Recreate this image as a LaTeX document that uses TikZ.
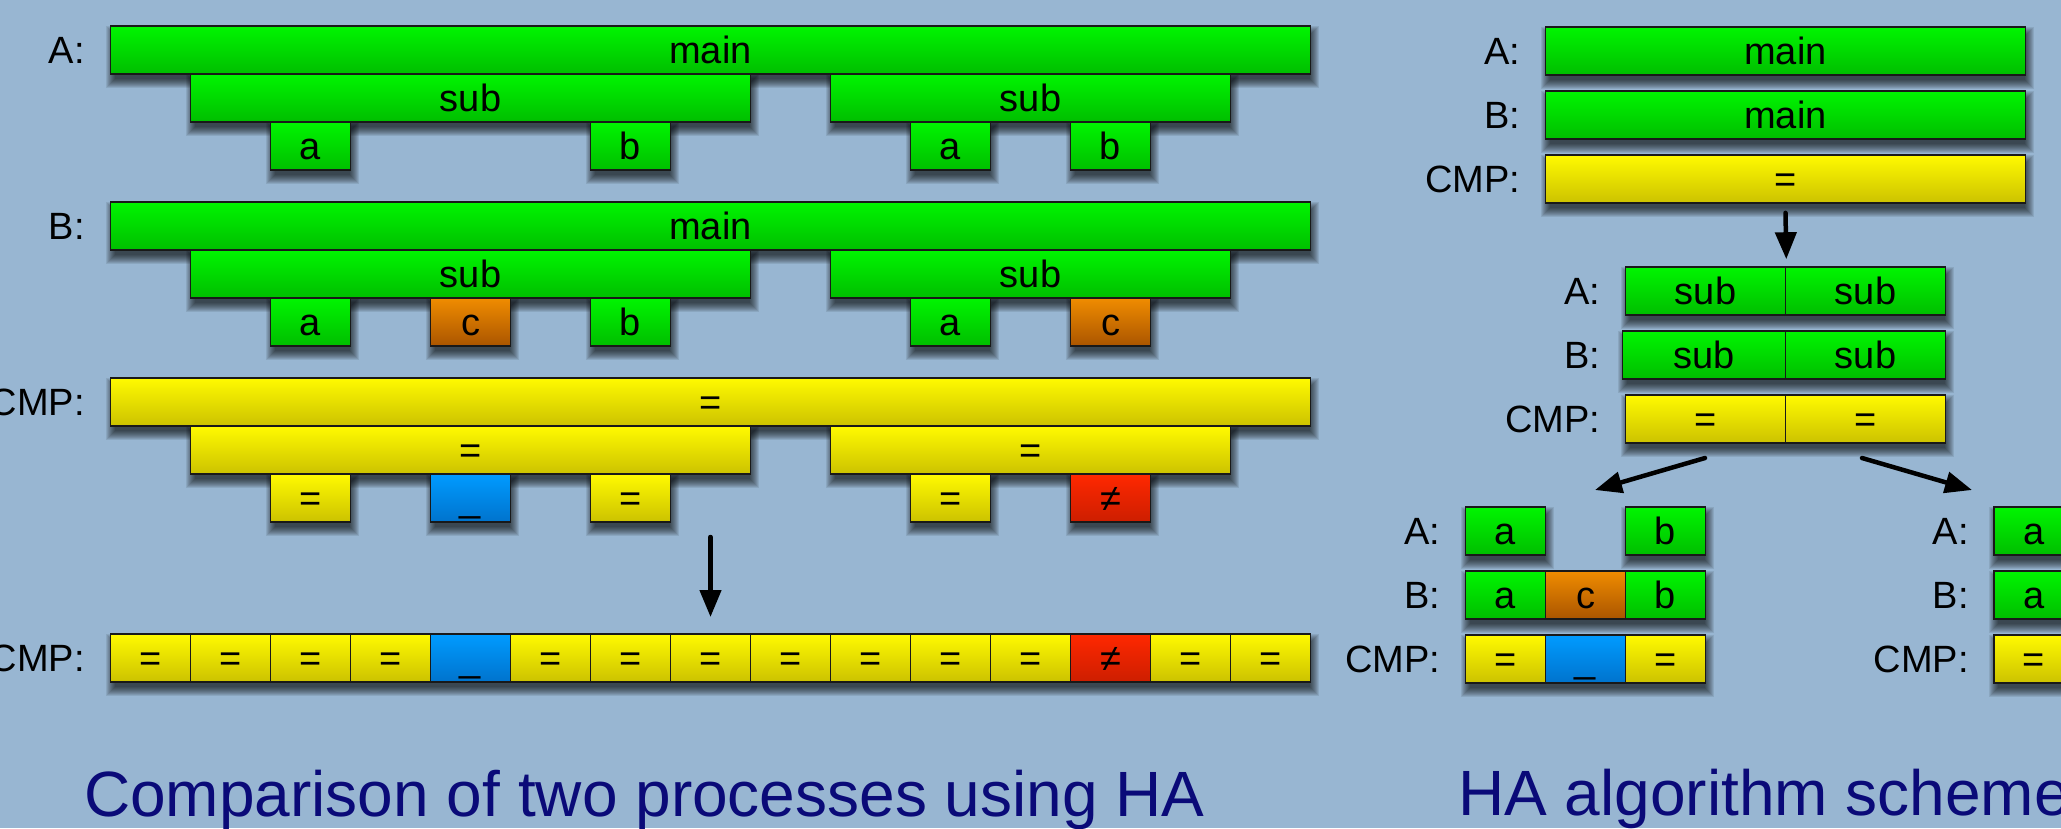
\documentclass[tikz,border=0pt]{standalone}
\usepackage{fontspec}
\setmainfont{Liberation Sans}
\usetikzlibrary{arrows.meta}
\definecolor{bgc}{RGB}{152,182,210}
\definecolor{gtop}{RGB}{0,245,0}
\definecolor{gbot}{RGB}{0,190,0}
\definecolor{ytop}{RGB}{255,250,0}
\definecolor{ybot}{RGB}{204,194,0}
\definecolor{btop}{RGB}{0,155,255}
\definecolor{bbot}{RGB}{0,115,205}
\definecolor{rtop}{RGB}{255,40,0}
\definecolor{rbot}{RGB}{205,30,0}
\definecolor{otop}{RGB}{240,140,0}
\definecolor{obot}{RGB}{170,85,0}
\definecolor{capc}{RGB}{10,10,120}
\pgfdeclarelayer{back}
\pgfdeclarelayer{shade}
\pgfsetlayers{back,shade,main}
\newcommand\mkshadow[2]{%
  \foreach \r in {-3,...,6}{%
    \fill[black,opacity=0.085]
      ([xshift={(2-\r)*1pt},yshift={(\r-7)*1pt}]#1.north west) rectangle
      ([xshift={(2+\r)*1pt},yshift={(-7-\r)*1pt}]#2.south east);}}
\begin{document}
\begin{tikzpicture}[x=1pt,y=-1pt,
  txt/.style={font=\fontsize{38}{44}\selectfont, text height=27pt, text depth=0pt, inner sep=0pt},
  box/.style={txt, draw=black!90, line width=1.6pt, minimum height=48pt, minimum width=80pt},
  gb/.style={box, top color=gtop, bottom color=gbot},
  yb/.style={box, top color=ytop, bottom color=ybot},
  bb/.style={box, top color=btop, bottom color=bbot},
  rb/.style={box, top color=rtop, bottom color=rbot},
  ob/.style={box, top color=otop, bottom color=obot},
  lbl/.style={txt, anchor=east},
  captext/.style={font=\fontsize{64}{72}\selectfont, text=capc, anchor=base west, inner sep=0pt},
  arr/.style={line width=4.5pt, line cap=round, -{Triangle[length=27pt,width=21pt]}}
]
\useasboundingbox (0,0) rectangle (2061,828);
\begin{pgfonlayer}{back}
\fill[bgc] (0,0) rectangle (2061,828);
\end{pgfonlayer}
\clip (0,0) rectangle (2061,828);

% ---------- left: A ----------
\node[lbl] (LA) at (85,50) {A:};
\node[gb, minimum width=1200pt] (Am) at (710.5,50) {main};
\node[gb, minimum width=560pt] (As1) at (470.5,98) {sub};
\node[gb, minimum width=400pt] (As2) at (1030.5,98) {sub};
\node[gb] (Aa1) at (310.5,146) {a};
\node[gb] (Ab1) at (630.5,146) {b};
\node[gb] (Aa2) at (950.5,146) {a};
\node[gb] (Ab2) at (1110.5,146) {b};

% ---------- left: B ----------
\node[lbl] (LB) at (85,226) {B:};
\node[gb, minimum width=1200pt] (Bm) at (710.5,226) {main};
\node[gb, minimum width=560pt] (Bs1) at (470.5,274) {sub};
\node[gb, minimum width=400pt] (Bs2) at (1030.5,274) {sub};
\node[gb] (Ba1) at (310.5,322) {a};
\node[ob] (Bc1) at (470.5,322) {c};
\node[gb] (Bb1) at (630.5,322) {b};
\node[gb] (Ba2) at (950.5,322) {a};
\node[ob] (Bc2) at (1110.5,322) {c};

% ---------- left: CMP ----------
\node[lbl] (LC) at (85,402) {CMP:};
\node[yb, minimum width=1200pt] (Cm) at (710.5,402) {=};
\node[yb, minimum width=560pt] (Cs1) at (470.5,450) {=};
\node[yb, minimum width=400pt] (Cs2) at (1030.5,450) {=};
\node[yb] (Ce1) at (310.5,498) {=};
\node[bb] (Cu1) at (470.5,498) {\_};
\node[yb] (Ce2) at (630.5,498) {=};
\node[yb] (Ce3) at (950.5,498) {=};
\node[rb] (Cn1) at (1110.5,498) {≠};

\coordinate (a1s) at (710.5,537);
\coordinate (a1e) at (710.5,617);
\draw[arr] (a1s) -- (a1e);

% ---------- left: flat CMP ----------
\node[lbl] (LR) at (85,658) {CMP:};
\node[yb] (R0) at (150.5,658) {=};
\node[yb] (R1) at (230.5,658) {=};
\node[yb] (R2) at (310.5,658) {=};
\node[yb] (R3) at (390.5,658) {=};
\node[bb] (R4) at (470.5,658) {\_};
\node[yb] (R5) at (550.5,658) {=};
\node[yb] (R6) at (630.5,658) {=};
\node[yb] (R7) at (710.5,658) {=};
\node[yb] (R8) at (790.5,658) {=};
\node[yb] (R9) at (870.5,658) {=};
\node[yb] (R10) at (950.5,658) {=};
\node[yb] (R11) at (1030.5,658) {=};
\node[rb] (R12) at (1110.5,658) {≠};
\node[yb] (R13) at (1190.5,658) {=};
\node[yb] (R14) at (1270.5,658) {=};

\node[captext] (cap1) at (84,816) {Comparison of two processes using HA};

% ---------- right: top ----------
\node[lbl] (RLA) at (1520.5,51) {A:};
\node[gb, minimum width=480pt] (RAm) at (1785.5,51) {main};
\node[lbl] (RLB) at (1520.5,115) {B:};
\node[gb, minimum width=480pt] (RBm) at (1785.5,115) {main};
\node[lbl] (RLC) at (1520.5,179) {CMP:};
\node[yb, minimum width=480pt] (RCm) at (1785.5,179) {=};

% ---------- right: sub level ----------
\node[lbl] (SLA) at (1600.5,291) {A:};
\node[gb, minimum width=160pt] (RAs1) at (1705.5,291) {sub};
\node[gb, minimum width=160pt] (RAs2) at (1865.5,291) {sub};
\node[lbl] (SLB) at (1600.5,355) {B:};
\node[gb, minimum width=163pt] (RBs1) at (1704,355) {sub};
\node[gb, minimum width=160pt] (RBs2) at (1865.5,355) {sub};
\node[lbl] (SLC) at (1600.5,419) {CMP:};
\node[yb, minimum width=160pt] (RCs1) at (1705.5,419) {=};
\node[yb, minimum width=160pt] (RCs2) at (1865.5,419) {=};

\draw[arr] ([yshift=-9pt]RCm.south) -- ([yshift=7pt]RAs1.north east);

\coordinate (d1s) at (1705,458);
\coordinate (d1e) at (1595,490);
\coordinate (d2s) at (1862,458);
\coordinate (d2e) at (1972,490);
\draw[arr] (d1s) -- (d1e);
\draw[arr] (d2s) -- (d2e);

% ---------- right: lower left group ----------
\node[lbl] (LLA) at (1440.5,531) {A:};
\node[gb] (LLAa) at (1505.5,531) {a};
\node[gb] (LLAb) at (1665.5,531) {b};
\node[lbl] (LLB) at (1440.5,595) {B:};
\node[gb] (LLBa) at (1505.5,595) {a};
\node[ob] (LLBc) at (1585.5,595) {c};
\node[gb] (LLBb) at (1665.5,595) {b};
\node[lbl] (LLC) at (1440.5,659) {CMP:};
\node[yb] (LLCe1) at (1505.5,659) {=};
\node[bb] (LLCu) at (1585.5,659) {\_};
\node[yb] (LLCe2) at (1665.5,659) {=};

% ---------- right: lower right group ----------
\node[lbl] (LRA) at (1969,531) {A:};
\node[gb] (LRAa) at (2034,531) {a};
\node[lbl] (LRB) at (1969,595) {B:};
\node[gb] (LRBa) at (2034,595) {a};
\node[lbl] (LRC) at (1969,659) {CMP:};
\node[yb] (LRCe) at (2034,659) {=};

\node[captext] (cap2) at (1458,815) {HA algorithm scheme};

% ---------- shadows ----------
\begin{pgfonlayer}{shade}
\foreach \n in {Am,As1,As2,Aa1,Ab1,Aa2,Ab2,Bm,Bs1,Bs2,Ba1,Bc1,Bb1,Ba2,Bc2,Cm,Cs1,Cs2,Ce1,Cu1,Ce2,Ce3,Cn1,RAm,RBm,RCm,LLAa,LLAb,LRAa,LRBa,LRCe}
  {\mkshadow{\n}{\n}}
\mkshadow{R0}{R14}
\mkshadow{RAs1}{RAs2}
\mkshadow{RBs1}{RBs2}
\mkshadow{RCs1}{RCs2}
\mkshadow{LLBa}{LLBb}
\mkshadow{LLCe1}{LLCe2}
\end{pgfonlayer}
\end{tikzpicture}
\end{document}
